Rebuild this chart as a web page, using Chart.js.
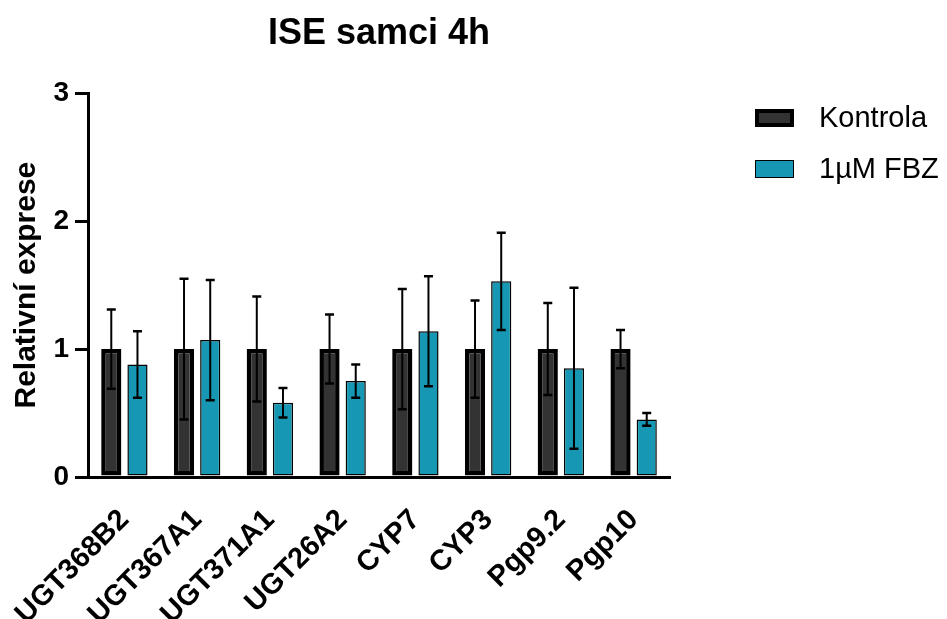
<!DOCTYPE html>
<html>
<head>
<meta charset="utf-8">
<script src="https://cdn.jsdelivr.net/npm/chart.js@4.4.1/dist/chart.umd.min.js"></script>
<style>
    html, body { margin: 0; padding: 0; background: #fff; }
    #wrap { position: relative; width: 947px; height: 619px; overflow: hidden; }
    #legend { position: absolute; left: 755px; top: 103px; font-family: "Liberation Sans", Arial, sans-serif; font-size: 29px; color: #000; }
    .item { position: relative; height: 51px; }
    .box { position: absolute; left: 0; top: 6px; width: 39px; height: 18px; box-sizing: border-box; }
    .text { position: absolute; left: 64px; top: -1px; line-height: 30px; white-space: nowrap; }
</style>
</head>
<body>
<div id="wrap">
    <canvas id="chart"></canvas>
    <div id="legend"></div>
</div>
<script>
const genes = ['UGT368B2', 'UGT367A1', 'UGT371A1', 'UGT26A2', 'CYP7', 'CYP3', 'Pgp9.2', 'Pgp10'];
const seriesNames = ['Kontrola', '1µM FBZ'];
const kontrola = [1, 1, 1, 1, 1, 1, 1, 1];
const kontrolaErr = [0.31, 0.55, 0.41, 0.27, 0.47, 0.38, 0.36, 0.15];
const fbz = [0.88, 1.07, 0.58, 0.75, 1.14, 1.53, 0.85, 0.45];
const fbzErr = [0.26, 0.47, 0.115, 0.13, 0.43, 0.38, 0.63, 0.05];
const yTicks = [0, 1, 2, 3];

const FONT = '"Liberation Sans", Arial, sans-serif';

// draws the SD whiskers over each bar
const errorBars = {
    id: 'errorBars',
    afterDatasetsDraw(chart) {
        const ctx = chart.ctx;
        const y = chart.scales.y;
        ctx.save();
        ctx.strokeStyle = '#000';
        chart.data.datasets.forEach((ds, i) => {
            const meta = chart.getDatasetMeta(i);
            meta.data.forEach((bar, j) => {
                const v = ds.data[j];
                const e = ds.errors[j];
                const top = y.getPixelForValue(v + e);
                const bot = y.getPixelForValue(v - e);
                ctx.lineWidth = 2;
                ctx.beginPath();
                ctx.moveTo(bar.x, top);
                ctx.lineTo(bar.x, bot);
                ctx.stroke();
                ctx.lineWidth = 2.5;
                ctx.beginPath();
                ctx.moveTo(bar.x - 4.5, top);
                ctx.lineTo(bar.x + 4.5, top);
                ctx.moveTo(bar.x - 4.5, bot);
                ctx.lineTo(bar.x + 4.5, bot);
                ctx.stroke();
            });
        });
        ctx.restore();
    }
};

const chart = new Chart(document.getElementById('chart'), {
    type: 'bar',
    data: {
        labels: genes,
        datasets: [{
            label: seriesNames[0],
            data: kontrola,
            errors: kontrolaErr,
            backgroundColor: '#333333',
            borderColor: '#000',
            borderWidth: 4.5,
            borderSkipped: false
        }, {
            label: seriesNames[1],
            data: fbz,
            errors: fbzErr,
            backgroundColor: '#1698b4',
            borderColor: '#000',
            borderWidth: 1.5,
            borderSkipped: false
        }]
    },
    options: {
        responsive: true,
        maintainAspectRatio: false,
        animation: false,
        layout: { padding: { top: 0, left: 6, right: 277, bottom: 0 } },
        datasets: { bar: { categoryPercentage: 0.72, barPercentage: 0.77 } },
        plugins: {
            legend: { display: false },
            tooltip: { enabled: false },
            title: {
                display: true,
                text: 'ISE samci 4h',
                fullSize: false,
                color: '#000',
                font: { family: FONT, size: 36, weight: 'bold' },
                padding: { top: 12, bottom: 38 }
            }
        },
        scales: {
            x: {
                grid: { display: false },
                border: { display: true, color: '#000', width: 3 },
                afterFit(scale) {
                    scale.height = 142;
                    // rotated labels may run off the canvas, as in the original
                    scale.paddingLeft = 0;
                    scale.paddingRight = 0;
                },
                ticks: {
                    autoSkip: false,
                    minRotation: 45,
                    maxRotation: 45,
                    padding: 18,
                    color: '#000',
                    font: { family: FONT, size: 29, weight: 'bold' }
                }
            },
            y: {
                min: 0,
                max: 3,
                afterFit(scale) { scale.width = 82; },
                afterBuildTicks(scale) { scale.ticks = yTicks.map(v => ({ value: v })); },
                grid: { drawOnChartArea: false, drawTicks: true, tickLength: 13, color: '#000', lineWidth: 3 },
                border: { display: true, color: '#000', width: 3 },
                ticks: {
                    padding: 6,
                    color: '#000',
                    font: { family: FONT, size: 28, weight: 'bold' }
                },
                title: {
                    display: true,
                    text: 'Relativní exprese',
                    color: '#000',
                    padding: { top: 3, bottom: 0 },
                    font: { family: FONT, size: 30, weight: 'bold' }
                }
            }
        }
    },
    plugins: [errorBars]
});

// legend built from the dataset styles
const legend = document.getElementById('legend');
chart.data.datasets.forEach(ds => {
    const item = document.createElement('div');
    item.className = 'item';
    const box = document.createElement('div');
    box.className = 'box';
    box.style.background = ds.backgroundColor;
    box.style.border = ds.borderWidth + 'px solid ' + ds.borderColor;
    const txt = document.createElement('div');
    txt.className = 'text';
    txt.textContent = ds.label;
    item.appendChild(box);
    item.appendChild(txt);
    legend.appendChild(item);
});
</script>
</body>
</html>
